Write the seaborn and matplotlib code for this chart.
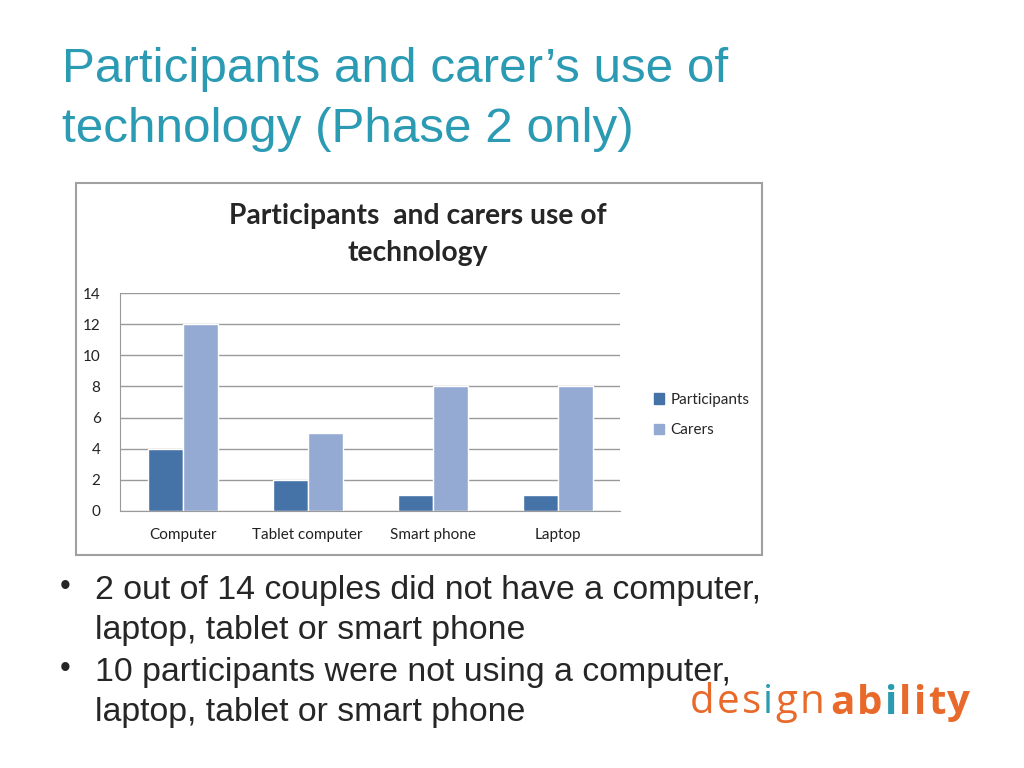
import seaborn as sns
import pandas as pd
import matplotlib.pyplot as plt
from matplotlib.patches import Rectangle

devices = ['Computer', 'Tablet computer', 'Smart phone', 'Laptop']
participants = [4, 2, 1, 1]
carers = [12, 5, 8, 8]
series = ['Participants', 'Carers']
yticks = [0, 2, 4, 6, 8, 10, 12, 14]

rows = []
for d, p, c in zip(devices, participants, carers):
    rows.append([d, p, 'Participants'])
    rows.append([d, c, 'Carers'])
df = pd.DataFrame(rows, columns=['device', 'count', 'who'])

sns.set_style('white')
plt.rcParams['font.family'] = ['Liberation Sans', 'DejaVu Sans']

fig = plt.figure(figsize=(10.24, 7.68), dpi=100)
W, H = 1024, 768

def fx(x):
    return x / W

def fy(y):
    return 1 - y / H

teal = '#2b9ab3'
fig.text(fx(62), fy(70), 'Participants and carer\u2019s use of', color=teal,
         fontsize=35.6, va='center', ha='left')
fig.text(fx(62), fy(130), 'technology (Phase 2 only)', color=teal,
         fontsize=35.6, va='center', ha='left')

# chart frame
fig.patches.append(Rectangle((fx(76), fy(555)), fx(762) - fx(76), fy(183) - fy(555),
                             transform=fig.transFigure, facecolor='white',
                             edgecolor='#a0a0a0', lw=1.5, zorder=-1))

fig.text(fx(418), fy(216), 'Participants  and carers use of', fontsize=20.3,
         fontweight='bold', family='Lato', ha='center', va='center')
fig.text(fx(418), fy(253), 'technology', fontsize=20.3,
         fontweight='bold', family='Lato', ha='center', va='center')

ax = fig.add_axes([fx(120), fy(511), fx(620) - fx(120), fy(293) - fy(511)])
ax.patch.set_alpha(0)
palette = {'Participants': '#4572a7', 'Carers': '#95aad2'}
sns.barplot(data=df, x='device', y='count', hue='who', hue_order=series,
            palette=palette, width=0.56, saturation=1, ax=ax, legend=False)
ax.set_ylim(0, 14)
ax.set_yticks(yticks)
ax.set_xlabel('')
ax.set_ylabel('')
ax.grid(axis='y', color='#9a9a9a', lw=1)
ax.set_axisbelow(True)
for s in ['top', 'right']:
    ax.spines[s].set_visible(False)
for s in ['left', 'bottom']:
    ax.spines[s].set_color('#9a9a9a')
ax.tick_params(axis='y', labelsize=11, length=0, pad=14)
ax.tick_params(axis='x', labelsize=11, length=0, pad=12)
for lab in ax.get_xticklabels() + ax.get_yticklabels():
    lab.set_family('Lato')
    lab.set_color('#222222')

handles = [Rectangle((0, 0), 1, 1, color=palette[s]) for s in series]
fig.legend(handles, series, loc='center left', bbox_to_anchor=(fx(640), fy(415)),
           frameon=False, handlelength=0.7, handleheight=0.7, handletextpad=0.4,
           labelspacing=1.1, prop={'family': 'Lato', 'size': 11})

bullets = [
    ('2 out of 14 couples did not have a computer,', 'laptop, tablet or smart phone'),
    ('10 participants were not using a computer,', 'laptop, tablet or smart phone'),
]
y = 590
for first, second in bullets:
    fig.text(fx(60), fy(y - 3), '\u2022', fontsize=22, va='center', ha='left')
    fig.text(fx(95), fy(y), first, fontsize=24.4, va='center', ha='left')
    fig.text(fx(95), fy(y + 40), second, fontsize=24.4, va='center', ha='left')
    y += 82

# logo, letter by letter with a little tracking; first "i" of each part is blue
orange = '#e8692a'
blue = '#2a9bb0'
logo = [('design', 'normal'), ('ability', 'bold')]
renderer = fig.canvas.get_renderer()
x = 690
for word, wt in logo:
    first_i = word.index('i')
    for k, ch in enumerate(word):
        col = blue if k == first_i else orange
        t = fig.text(fx(x), fy(703), ch, fontsize=29, fontweight=wt, color=col,
                     family='Open Sans', va='center', ha='left')
        x += t.get_window_extent(renderer).width + 2.2
    x += 4

fig.savefig('out.png', dpi=100)
